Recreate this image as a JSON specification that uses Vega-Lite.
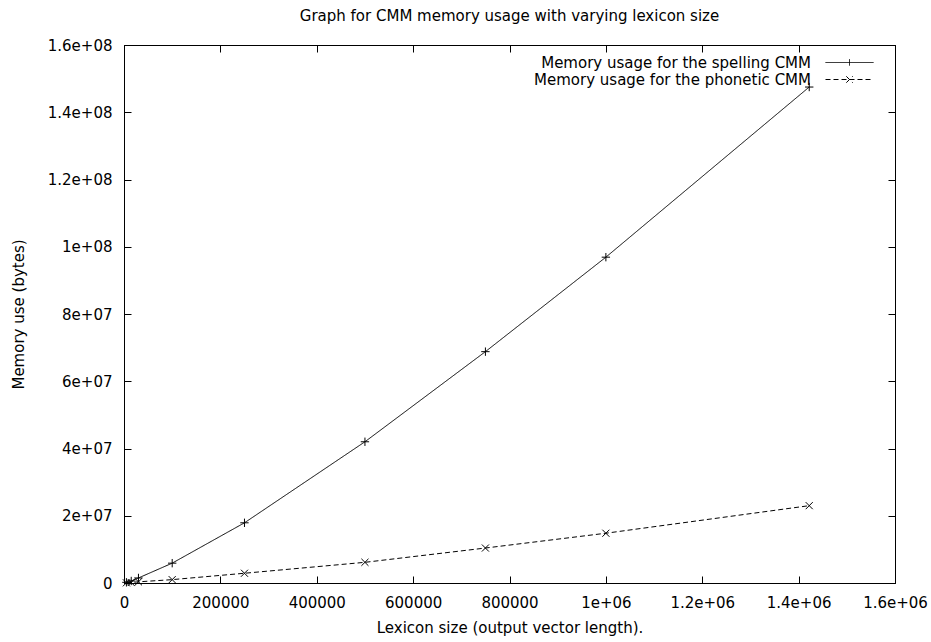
{
  "$schema": "https://vega.github.io/schema/vega-lite/v6.json",
  "width": 771,
  "height": 538,
  "autosize": {"type": "none"},
  "padding": {"left": 124, "top": 45, "right": 36, "bottom": 59},
  "background": "white",
  "title": {
    "text": "Graph for CMM memory usage with varying lexicon size",
    "font": "DejaVu Sans",
    "fontSize": 15,
    "fontWeight": "normal",
    "color": "black",
    "anchor": "middle",
    "offset": 14
  },
  "config": {
    "view": {"stroke": "black", "strokeWidth": 1},
    "axis": {
      "grid": false,
      "labelFont": "DejaVu Sans",
      "labelFontSize": 15,
      "labelColor": "black",
      "titleFont": "DejaVu Sans",
      "titleFontSize": 15,
      "titleFontWeight": "normal",
      "titleColor": "black",
      "domainColor": "black",
      "tickColor": "black",
      "tickSize": -7,
      "labelPadding": 19,
      "labelFlush": false,
      "labelOverlap": false
    }
  },
  "data": {
    "values": [
      {"size": 5000, "mem": 200000, "series": "Memory usage for the spelling CMM"},
      {"size": 15000, "mem": 600000, "series": "Memory usage for the spelling CMM"},
      {"size": 30000, "mem": 1500000, "series": "Memory usage for the spelling CMM"},
      {"size": 100000, "mem": 5900000, "series": "Memory usage for the spelling CMM"},
      {"size": 250000, "mem": 17900000, "series": "Memory usage for the spelling CMM"},
      {"size": 500000, "mem": 42000000, "series": "Memory usage for the spelling CMM"},
      {"size": 750000, "mem": 68800000, "series": "Memory usage for the spelling CMM"},
      {"size": 1000000, "mem": 96900000, "series": "Memory usage for the spelling CMM"},
      {"size": 1422000, "mem": 147500000, "series": "Memory usage for the spelling CMM"},
      {"size": 5000, "mem": 50000, "series": "Memory usage for the phonetic CMM"},
      {"size": 15000, "mem": 150000, "series": "Memory usage for the phonetic CMM"},
      {"size": 30000, "mem": 350000, "series": "Memory usage for the phonetic CMM"},
      {"size": 100000, "mem": 1000000, "series": "Memory usage for the phonetic CMM"},
      {"size": 250000, "mem": 2900000, "series": "Memory usage for the phonetic CMM"},
      {"size": 500000, "mem": 6150000, "series": "Memory usage for the phonetic CMM"},
      {"size": 750000, "mem": 10400000, "series": "Memory usage for the phonetic CMM"},
      {"size": 1000000, "mem": 14800000, "series": "Memory usage for the phonetic CMM"},
      {"size": 1422000, "mem": 23000000, "series": "Memory usage for the phonetic CMM"}
    ]
  },
  "layer": [
    {
      "mark": {"type": "line", "color": "black", "strokeWidth": 1},
      "encoding": {
        "x": {
          "field": "size",
          "type": "quantitative",
          "scale": {"domain": [0, 1600000], "nice": false, "zero": false},
          "axis": {
            "title": "Lexicon size (output vector length).",
            "values": [0, 200000, 400000, 600000, 800000, 1000000, 1200000, 1400000, 1600000],
            "labelExpr": "datum.value < 1000000 ? format(datum.value, 'd') : replace(format(datum.value, '~e'), regexp('e[+]([0-9])$'), 'e+0$1')",
            "titleY": 44,
            "titleBaseline": "middle"
          }
        },
        "y": {
          "field": "mem",
          "type": "quantitative",
          "scale": {"domain": [0, 160000000], "nice": false, "zero": false},
          "axis": {
            "title": "Memory use (bytes)",
            "values": [0, 20000000, 40000000, 60000000, 80000000, 100000000, 120000000, 140000000, 160000000],
            "labelExpr": "datum.value == 0 ? '0' : replace(format(datum.value, '~e'), regexp('e[+]([0-9])$'), 'e+0$1')",
            "titleX": -106,
            "titleBaseline": "middle"
          }
        },
        "strokeDash": {
          "field": "series",
          "type": "nominal",
          "scale": {
            "domain": ["Memory usage for the spelling CMM", "Memory usage for the phonetic CMM"],
            "range": [[1, 0], [5, 3]]
          },
          "legend": {
            "title": null,
            "orient": "none",
            "legendX": 717,
            "legendY": 9,
            "padding": 0,
            "labelFont": "DejaVu Sans",
            "labelFontSize": 15,
            "labelColor": "black",
            "labelAlign": "right",
            "labelOffset": -47,
            "labelLimit": 400,
            "symbolSize": 256,
            "symbolStrokeWidth": 1,
            "symbolStrokeColor": "black",
            "rowPadding": -3,
            "encode": {
              "symbols": {
                "update": {
                  "shape": {"signal": "datum.value == 'Memory usage for the spelling CMM' ? 'M-3,0H3M0,-0.4V0.4' : 'M-3,0H3M-0.4,-0.4L0.4,0.4M-0.4,0.4L0.4,-0.4'"},
                  "stroke": {"value": "black"}
                }
              }
            }
          }
        }
      }
    },
    {
      "transform": [{"filter": "datum.series == 'Memory usage for the spelling CMM'"}],
      "mark": {"type": "point", "filled": false, "color": "black", "strokeWidth": 1, "opacity": 1, "shape": "M-1,0H1M0,-1V1", "size": 70},
      "encoding": {
        "x": {
          "field": "size",
          "type": "quantitative",
          "axis": {"labels": false, "title": null, "values": [0, 200000, 400000, 600000, 800000, 1000000, 1200000, 1400000, 1600000]}
        },
        "y": {
          "field": "mem",
          "type": "quantitative",
          "axis": {"labels": false, "title": null, "values": [0, 20000000, 40000000, 60000000, 80000000, 100000000, 120000000, 140000000, 160000000]}
        }
      }
    },
    {
      "transform": [{"filter": "datum.series == 'Memory usage for the phonetic CMM'"}],
      "mark": {"type": "point", "filled": false, "color": "black", "strokeWidth": 1, "opacity": 1, "shape": "M-1,-1L1,1M-1,1L1,-1", "size": 50},
      "encoding": {
        "x": {"field": "size", "type": "quantitative", "axis": null},
        "y": {"field": "mem", "type": "quantitative", "axis": null}
      }
    }
  ],
  "resolve": {"axis": {"x": "independent", "y": "independent"}}
}
